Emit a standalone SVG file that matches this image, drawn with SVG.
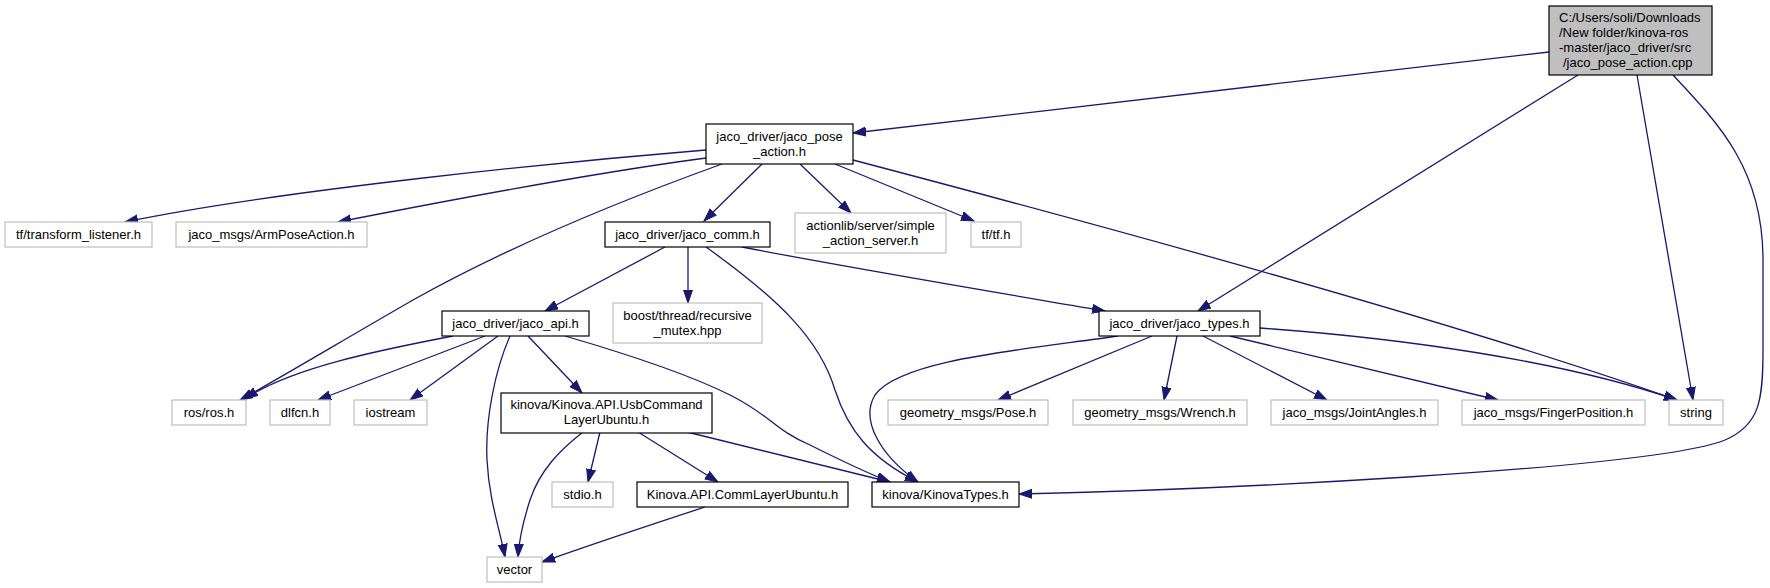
<svg xmlns="http://www.w3.org/2000/svg" width="1770" height="588" viewBox="0 0 1770 588">
<style>
text{font-family:"Liberation Sans",Arial,sans-serif;font-size:13px;fill:#000;text-anchor:middle}
.n rect{fill:#fff;stroke:#000;stroke-width:1.2}
.g rect{fill:#fff;stroke:#bfbfbf;stroke-width:1.2}
.r rect{fill:#bfbfbf;stroke:#000;stroke-width:1.2}
.r text{text-anchor:start}
#edges path{fill:none;stroke:#191970;stroke-width:1.3;marker-end:url(#ah)}
</style>
<defs>
<marker id="ah" markerUnits="userSpaceOnUse" markerWidth="15" markerHeight="11" refX="13" refY="5" orient="auto">
<path d="M0,0.5 L13,5 L0,9.5 z" fill="#191970" stroke="#191970" stroke-width="1"/>
</marker>
</defs>
<rect width="1770" height="588" fill="#fff"/>
<g id="edges">
<path d="M1549,52 L853,133"/>
<path d="M1578,75 L1198,311"/>
<path d="M1637,75 L1693,400"/>
<path d="M1673,75 C1720,125 1763,170 1763,260 L1763,350 C1763,400 1760,425 1725,440 C1650,470 1200,490 1019,494"/>
<path d="M706,150 C560,162 280,190 125,222"/>
<path d="M706,158 C600,172 450,200 338,222"/>
<path d="M722,164 C650,190 520,240 413,300 C340,342 280,378 240,400"/>
<path d="M762,164 L704,221"/>
<path d="M800,164 L851,213"/>
<path d="M835,164 L974,221"/>
<path d="M853,160 C1100,225 1450,320 1677,400"/>
<path d="M665,247 L545,311"/>
<path d="M688,247 L688,303"/>
<path d="M706,247 C780,300 820,340 835,390 C848,430 870,458 918,482"/>
<path d="M742,247 C850,268 1000,293 1105,311"/>
<path d="M453,336 C380,350 290,368 245,399"/>
<path d="M485,336 L318,400"/>
<path d="M498,336 L410,400"/>
<path d="M510,336 C495,370 485,420 487,460 C489,500 500,530 505,557"/>
<path d="M528,336 L582,393"/>
<path d="M565,336 C620,352 690,375 730,395 C770,415 775,430 810,445 C840,460 865,472 890,482"/>
<path d="M583,432 C560,450 540,470 530,500 C522,525 519,540 518,557"/>
<path d="M600,432 L588,482"/>
<path d="M638,432 L718,482"/>
<path d="M687,432 L890,482"/>
<path d="M705,507 C650,525 590,545 542,562"/>
<path d="M1152,336 L998,400"/>
<path d="M1177,336 L1164,400"/>
<path d="M1203,336 L1327,400"/>
<path d="M1230,336 L1498,400"/>
<path d="M1260,328 C1400,338 1560,360 1677,400"/>
<path d="M1118,336 C1020,350 900,360 875,395 C860,420 880,455 918,482"/>
</g>
<g id="root" class="r"><rect x="1549" y="6" width="163" height="69"/>
<text x="1559" y="22">C:/Users/soli/Downloads</text>
<text x="1559" y="37">/New folder/kinova-ros</text>
<text x="1559" y="52">-master/jaco_driver/src</text>
<text x="1563" y="67">/jaco_pose_action.cpp</text></g>
<g id="pose_action" class="n"><rect x="706" y="124" width="147" height="40"/>
<text x="779.5" y="141">jaco_driver/jaco_pose</text><text x="779.5" y="156">_action.h</text></g>
<g id="transform_listener" class="g"><rect x="5" y="222" width="147" height="25"/><text x="78.5" y="239">tf/transform_listener.h</text></g>
<g id="armposeaction" class="g"><rect x="176" y="222" width="191" height="25"/><text x="271.5" y="239">jaco_msgs/ArmPoseAction.h</text></g>
<g id="jaco_comm" class="n"><rect x="605" y="222" width="165" height="25"/><text x="687.5" y="239">jaco_driver/jaco_comm.h</text></g>
<g id="actionlib" class="g"><rect x="795" y="213" width="151" height="40"/><text x="870.5" y="230">actionlib/server/simple</text><text x="870.5" y="245">_action_server.h</text></g>
<g id="tf" class="g"><rect x="971" y="222" width="50" height="25"/><text x="996" y="239">tf/tf.h</text></g>
<g id="jaco_api" class="n"><rect x="442" y="311" width="147" height="25"/><text x="515.5" y="328">jaco_driver/jaco_api.h</text></g>
<g id="boost" class="g"><rect x="613" y="303" width="149" height="40"/><text x="687.5" y="320">boost/thread/recursive</text><text x="687.5" y="335">_mutex.hpp</text></g>
<g id="jaco_types" class="n"><rect x="1099" y="311" width="161" height="25"/><text x="1179.5" y="328">jaco_driver/jaco_types.h</text></g>
<g id="ros" class="g"><rect x="172" y="400" width="74" height="25"/><text x="209" y="417">ros/ros.h</text></g>
<g id="dlfcn" class="g"><rect x="270" y="400" width="60" height="25"/><text x="300" y="417">dlfcn.h</text></g>
<g id="iostream" class="g"><rect x="354" y="400" width="73" height="25"/><text x="390.5" y="417">iostream</text></g>
<g id="usbcommand" class="n"><rect x="501" y="393" width="211" height="40"/><text x="606.5" y="409">kinova/Kinova.API.UsbCommand</text><text x="606.5" y="424">LayerUbuntu.h</text></g>
<g id="pose" class="g"><rect x="888" y="400" width="160" height="25"/><text x="968" y="417">geometry_msgs/Pose.h</text></g>
<g id="wrench" class="g"><rect x="1073" y="400" width="174" height="25"/><text x="1160" y="417">geometry_msgs/Wrench.h</text></g>
<g id="jointangles" class="g"><rect x="1271" y="400" width="167" height="25"/><text x="1354.5" y="417">jaco_msgs/JointAngles.h</text></g>
<g id="fingerposition" class="g"><rect x="1462" y="400" width="183" height="25"/><text x="1553.5" y="417">jaco_msgs/FingerPosition.h</text></g>
<g id="string" class="g"><rect x="1669" y="400" width="54" height="25"/><text x="1696" y="417">string</text></g>
<g id="stdio" class="g"><rect x="552" y="482" width="61" height="25"/><text x="582.5" y="499">stdio.h</text></g>
<g id="commlayer" class="n"><rect x="637" y="482" width="211" height="25"/><text x="742.5" y="499">Kinova.API.CommLayerUbuntu.h</text></g>
<g id="kinovatypes" class="n"><rect x="872" y="482" width="147" height="25"/><text x="945.5" y="499">kinova/KinovaTypes.h</text></g>
<g id="vector" class="g"><rect x="487" y="557" width="55" height="25"/><text x="514.5" y="574">vector</text></g>
</svg>
